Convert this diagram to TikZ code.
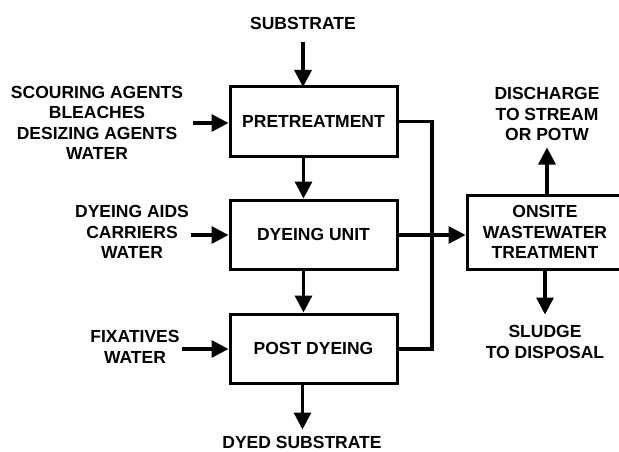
\documentclass[tikz,border=0pt]{standalone}
\usepackage{fontspec}
\setmainfont{Liberation Sans}
\usetikzlibrary{arrows.meta,calc}
\tikzset{
  unitbox/.style={draw=black, line width=3pt, minimum width=167pt, minimum height=69pt, inner sep=0pt},
  flow/.style={black, line width=3.2pt, -{Triangle[length=17pt,width=17pt]}},
  pipe/.style={black, line width=3.2pt},
  lbl/.style={align=center, inner sep=0pt, font=\fontsize{17.5}{20.5}\selectfont\bfseries}
}

\begin{document}
\begin{tikzpicture}[x=1pt,y=-1pt]
\useasboundingbox (0,0) rectangle (619,452);
% process units
\node[unitbox, lbl] (pre) at (313.5,121.5) {PRETREATMENT};
\node[unitbox, lbl] (dye) at (313.5,234.5) {DYEING UNIT};
\node[unitbox, lbl] (post) at (313.5,348.5) {POST DYEING};
\node[unitbox, minimum width=164pt, minimum height=74pt] (onsite) at (549,232) {};
\node[lbl] (onsitetxt) at (545,232) {ONSITE\\WASTEWATER\\TREATMENT};

% inputs and outputs
\node[lbl] (sub) at (303,23) {SUBSTRATE};
\node[lbl] (scour) at (97,123) {SCOURING AGENTS\\BLEACHES\\DESIZING AGENTS\\WATER};
\node[lbl] (aids) at (132,232) {DYEING AIDS\\CARRIERS\\WATER};
\node[lbl] (fix) at (135,347) {FIXATIVES\\WATER};
\node[lbl] (dyed) at (302,442) {DYED SUBSTRATE};
\node[lbl] (disch) at (547,114) {DISCHARGE\\TO STREAM\\OR POTW};
\node[lbl] (sludge) at (545,342) {SLUDGE\\TO DISPOSAL};

\coordinate (bus) at (432,349);

% main line
\draw[flow] (303,42) -- (303,87);
\draw[flow] ([xshift=-10pt]pre.south) -- ([xshift=-10pt]dye.north);
\draw[flow] ([xshift=-10pt]dye.south) -- ([xshift=-10pt]post.north);
\draw[flow] ([xshift=-11pt]post.south) -- ++(0,45);

% additions
\draw[flow] ([xshift=10pt]scour.east) -- (scour.east -| pre.west);
\draw[flow] ([xshift=2pt]aids.east |- 0,235) -- (pre.west |- 0,235);
\draw[flow] ([xshift=2pt]fix.east |- 0,349) -- (post.west |- 0,349);

% wastewater
\draw[pipe] (pre.east) -| (bus) -- (post.east |- bus);
\draw[flow] (dye.east |- 0,235) -- (onsite.west |- 0,235);
\draw[flow] ([xshift=-2pt]onsite.north) -- ++(0,-46);
\draw[flow] ([xshift=-4pt]onsite.south) -- ++(0,44);
\end{tikzpicture}
\end{document}
